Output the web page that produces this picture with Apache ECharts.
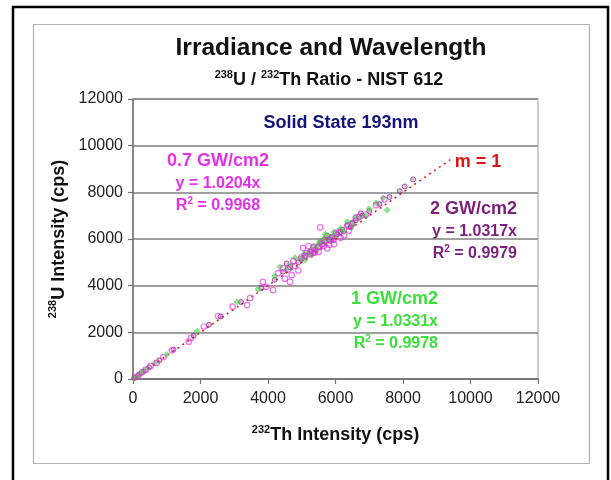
<!DOCTYPE html>
<html>
<head>
<meta charset="utf-8">
<script src="https://cdn.jsdelivr.net/npm/echarts@6/dist/echarts.min.js"></script>
<style>
html,body{margin:0;padding:0;background:#fff;}
#c{width:611px;height:480px;}
</style>
</head>
<body>
<div id="c"></div>
<script>
// ---- data ----
const xTicks = [0, 2000, 4000, 6000, 8000, 10000, 12000];
const yTicks = [0, 2000, 4000, 6000, 8000, 10000, 12000];

// 0.7 GW/cm2 (magenta)
const mag07 = [
  [60,70],[150,140],[260,280],[380,400],[520,560],[700,690],[900,940],[1150,1230],[1650,1600],[1720,1760],
  [2100,2250],[2520,2700],[2950,3100],[3380,3170],[3470,3470],[3850,4160],[3950,3950],[4150,3810],[4300,4540],
  [4500,4300],[4600,4700],[4650,4160],[4750,5050],[4800,4850],[4900,4650],[4980,5200],[5040,5610],[5150,5400],
  [5200,5700],[5300,5500],[5400,5420],[5480,5650],[5550,6500],[5600,5800],[5680,5950],[5750,5600],[5820,5750],
  [5900,6050],[5950,5780],[6020,6250],[6100,6300],[6250,6150],[6350,6550],[6500,6650],[6700,6950],[6900,7050],
  [7200,7450],[7450,7700],[4450,4750],[4700,4450],[5100,5250],[5250,5350],[5350,5650],[5500,5450],[5650,5700],
  [5850,5950],[6150,6050],[6400,6350],[6600,6900]
];
// 2 GW/cm2 (purple)
const gw2 = [
  [40,50],[180,190],[320,330],[480,500],[780,800],[1200,1260],[1800,1850],[2250,2330],[2600,2680],[3200,3300],
  [3800,3900],[4200,4250],[4450,4600],[4650,4800],[4900,5000],[5100,5300],[5250,5450],[5400,5550],[5500,5650],
  [5600,5750],[5700,5900],[5800,6000],[5900,6100],[6050,6200],[6200,6400],[6350,6600],[6500,6700],[6600,6800],
  [6800,7000],[7000,7200],[7300,7500],[7600,7800],[7900,8050],[8050,8250],[8300,8550],[4550,4950],[5000,5150],
  [5350,5400],[5550,5850],[5750,6150],[5950,5950],[6150,6300],[6450,6500],[6750,7100]
];
// 1 GW/cm2 (green)
const gw1 = [
  [20,30],[120,130],[280,300],[430,450],[650,680],[1000,1050],[1900,2050],[3080,3300],[3700,3850],[4200,4400],
  [4350,4800],[4550,4700],[4700,4900],[4950,5150],[5100,5100],[5200,5450],[5350,5700],[5450,5550],[5550,5900],
  [5650,6000],[5750,5850],[5850,6100],[6000,6150],[6150,6450],[6350,6750],[6500,6600],[6700,6900],[6900,7000],
  [7000,7300],[7200,7550],[7410,7760],[7530,7240],[4800,5200],[5050,5350],[5300,5300],[5500,5800],[5700,6200],
  [5950,6300],[6250,6300],[6600,6950]
];
// m = 1 reference line
const refLine = [[0,0],[9400,9400]];

const labels = {
  solid: 'Solid State 193nm',
  g07: ['0.7 GW/cm2', 'y = 1.0204x', '0.9968'],
  g2: ['2 GW/cm2', 'y = 1.0317x', '0.9979'],
  g1: ['1 GW/cm2', 'y = 1.0331x', '0.9978'],
  m1: 'm = 1'
};

// ---- chart ----
const FONT = '"Liberation Sans", Arial, sans-serif';
const chart = echarts.init(document.getElementById('c'));

function eqText(x, y, lines, color, align) {
  const base = {fontFamily: FONT, fontWeight: 'bold', fill: color, align: align, verticalAlign: 'middle'};
  return [
    {type: 'text', x: x, y: y, style: Object.assign({}, base, {text: lines[0], fontSize: 18})},
    {type: 'text', x: x, y: y + 23, style: Object.assign({}, base, {text: lines[1], fontSize: 16})},
    {type: 'text', x: x, y: y + 44, style: Object.assign({}, base, {
      text: '{r|R}{s|2}{r| = ' + lines[2] + '}',
      rich: {
        r: {fontFamily: FONT, fontWeight: 'bold', fontSize: 16, fill: color, color: color, verticalAlign: 'bottom', lineHeight: 18},
        s: {fontFamily: FONT, fontWeight: 'bold', fontSize: 10, fill: color, color: color, verticalAlign: 'top', lineHeight: 18}
      }
    })}
  ];
}

const option = {
  animation: false,
  backgroundColor: '#fff',
  grid: {left: 133, right: 73, top: 99, bottom: 101, show: true, borderColor: '#a0a0a0', borderWidth: 1, backgroundColor: 'transparent'},
  xAxis: {
    type: 'value', min: 0, max: 12000, interval: 2000,
    axisLine: {show: true, onZero: false, lineStyle: {color: '#707070', width: 1.5}},
    axisTick: {show: true, inside: false, length: 5, lineStyle: {color: '#707070', width: 1.2}},
    axisLabel: {margin: 12, color: '#222', fontFamily: FONT, fontSize: 16,
      formatter: v => xTicks.includes(v) ? String(v) : ''},
    splitLine: {show: false},
    name: '{s|232}{t|Th Intensity (cps)}',
    nameLocation: 'middle', nameGap: 45,
    nameTextStyle: {rich: {
      s: {fontFamily: FONT, fontWeight: 'bold', fontSize: 11, color: '#111', verticalAlign: 'top', lineHeight: 20},
      t: {fontFamily: FONT, fontWeight: 'bold', fontSize: 18, color: '#111', verticalAlign: 'bottom', lineHeight: 20}
    }}
  },
  yAxis: {
    type: 'value', min: 0, max: 12000, interval: 2000,
    axisLine: {show: true, lineStyle: {color: '#707070', width: 1.5}},
    axisTick: {show: true, inside: false, length: 5, lineStyle: {color: '#707070', width: 1.2}},
    axisLabel: {margin: 10, color: '#222', fontFamily: FONT, fontSize: 16,
      formatter: v => yTicks.includes(v) ? String(v) : ''},
    splitLine: {show: true, lineStyle: {color: '#808080', width: 1.5}},
    name: '{s|238}{t|U Intensity (cps)}',
    nameLocation: 'middle', nameGap: 64, nameRotate: 90,
    nameTextStyle: {rich: {
      s: {fontFamily: FONT, fontWeight: 'bold', fontSize: 11, color: '#111', verticalAlign: 'top', lineHeight: 20},
      t: {fontFamily: FONT, fontWeight: 'bold', fontSize: 18, color: '#111', verticalAlign: 'bottom', lineHeight: 20}
    }}
  },
  graphic: [
    {type: 'rect', shape: {x: 13, y: 7, width: 595, height: 490}, style: {fill: 'none', stroke: '#000', lineWidth: 2.5}, silent: true, z: -10},
    {type: 'rect', shape: {x: 33.5, y: 24.5, width: 556, height: 439}, style: {fill: 'none', stroke: '#b0b0b0', lineWidth: 1.2}, silent: true, z: -10},
    {type: 'text', x: 331, y: 48, style: {text: 'Irradiance and Wavelength', fontFamily: FONT, fontWeight: 'bold', fontSize: 24.5, fill: '#111', align: 'center', verticalAlign: 'middle'}},
    {type: 'text', x: 329, y: 79, style: {
      text: '{s|238}{t|U / }{s|232}{t|Th Ratio - NIST 612}', align: 'center', verticalAlign: 'middle',
      rich: {
        s: {fontFamily: FONT, fontWeight: 'bold', fontSize: 11, fill: '#111', color: '#111', verticalAlign: 'top', lineHeight: 20},
        t: {fontFamily: FONT, fontWeight: 'bold', fontSize: 18, fill: '#111', color: '#111', verticalAlign: 'bottom', lineHeight: 20}
      }}},
    {type: 'text', x: 341, y: 123, style: {text: labels.solid, fontFamily: FONT, fontWeight: 'bold', fontSize: 18, fill: '#14147a', align: 'center', verticalAlign: 'middle'}},
    {type: 'text', x: 478, y: 162, style: {text: labels.m1, fontFamily: FONT, fontWeight: 'bold', fontSize: 18, fill: '#e01414', align: 'center', verticalAlign: 'middle'}}
  ]
  .concat(eqText(218, 161, labels.g07, '#e632e6', 'center'))
  .concat(eqText(517, 209, labels.g2, '#7d1f7d', 'right'))
  .concat(eqText(438, 299, labels.g1, '#3ae03a', 'right')),
  series: [
    {type: 'line', data: refLine, symbol: 'none', lineStyle: {color: '#e02020', width: 1.6, type: [2, 4]}, z: 3, silent: true},
    {type: 'scatter', name: '2 GW/cm2', data: gw2, symbol: 'circle', symbolSize: 5,
      itemStyle: {color: 'rgba(130,40,130,0.35)', borderColor: 'rgba(125,40,125,0.85)', borderWidth: 1}, z: 4},
    {type: 'scatter', name: '1 GW/cm2', data: gw1, symbol: 'diamond', symbolSize: 6,
      itemStyle: {color: 'rgba(60,220,60,0.75)', borderColor: 'rgba(60,200,60,0.9)', borderWidth: 0.6}, z: 5},
    {type: 'scatter', name: '0.7 GW/cm2', data: mag07, symbol: 'circle', symbolSize: 5.5,
      itemStyle: {color: 'rgba(255,255,255,0)', borderColor: 'rgba(225,50,225,0.85)', borderWidth: 1.2}, z: 6}
  ]
};
chart.setOption(option);
</script>
</body>
</html>
